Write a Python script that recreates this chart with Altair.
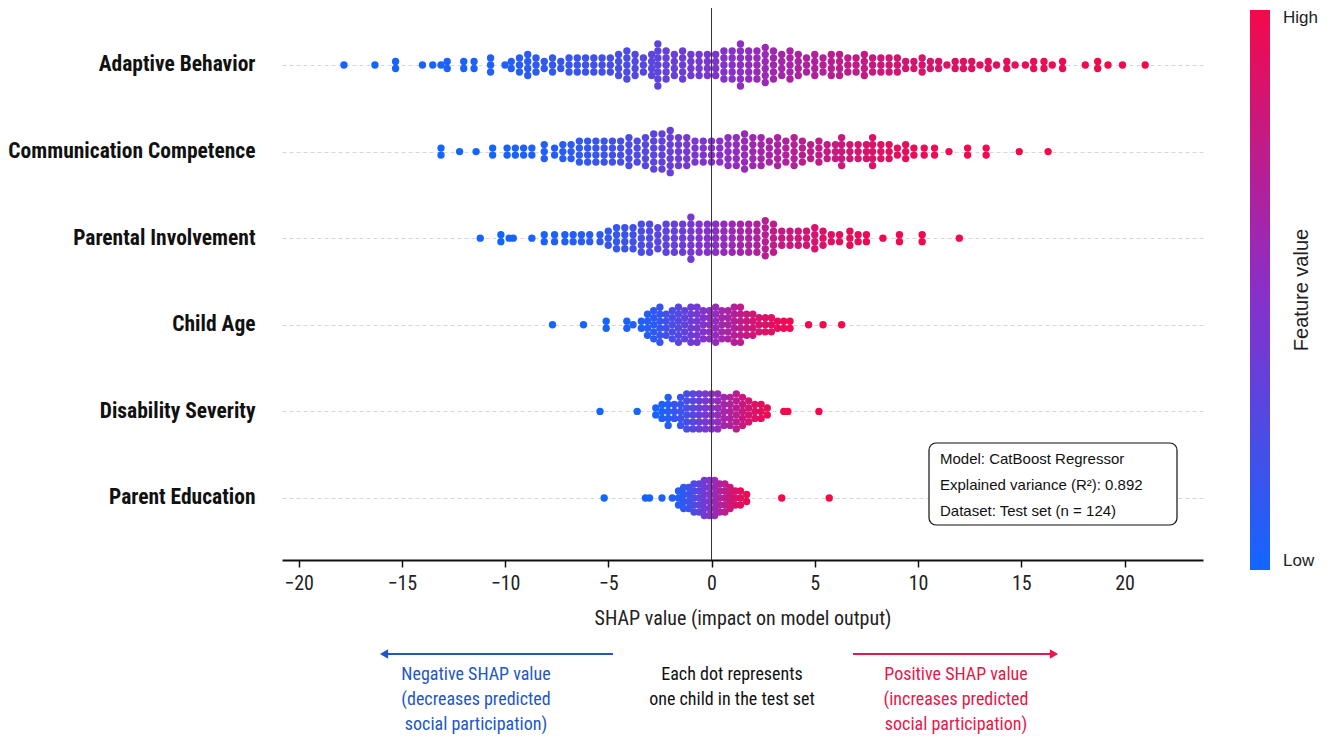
import altair as alt
import pandas as pd

FEATURES = ["Adaptive Behavior", "Communication Competence", "Parental Involvement",
            "Child Age", "Disability Severity", "Parent Education"]

# SHAP value of each dot column and how many dots are stacked in it
ab_x = [-17.8, -16.3, -15.3, -14.0, -13.5, -13.1, -12.8, -12.0, -11.5, -10.7,
        -10.0, -9.7, -9.3, -8.9, -8.5, -8.1, -7.7, -7.3, -6.9, -6.5,
        -6.1, -5.7, -5.3, -4.9, -4.5, -4.1, -3.7, -3.3, -2.9, -2.6,
        -2.2, -1.8, -1.4, -1.0, -0.6, -0.2, 0.2, 0.6, 1.0, 1.4,
        1.8, 2.2, 2.6, 3.0, 3.4, 3.8, 4.2, 4.6, 5.0, 5.4,
        5.8, 6.2, 6.6, 7.0, 7.4, 7.8, 8.2, 8.6, 9.0, 9.4,
        9.8, 10.2, 10.6, 11.0, 11.4, 11.8, 12.2, 12.6, 13.0, 13.4,
        13.8, 14.3, 14.7, 15.2, 15.6, 16.1, 16.5, 17.0, 18.1, 18.7,
        19.2, 19.9, 21.0]
ab_n = [1, 1, 2, 1, 1, 1, 2, 2, 2, 3,
        1, 2, 3, 4, 3, 2, 3, 2, 3, 3,
        3, 3, 3, 3, 4, 5, 4, 3, 4, 7,
        5, 4, 5, 4, 4, 4, 4, 5, 5, 7,
        5, 5, 6, 5, 4, 5, 4, 3, 4, 3,
        4, 4, 3, 3, 4, 3, 3, 3, 3, 2,
        2, 3, 2, 2, 1, 2, 2, 2, 1, 2,
        1, 2, 1, 1, 2, 2, 1, 2, 1, 2,
        1, 1, 1]

cc_x = [-13.1, -12.2, -11.4, -10.6, -9.9, -9.5, -9.1, -8.7, -8.1, -7.6,
        -7.2, -6.8, -6.4, -6.0, -5.6, -5.2, -4.8, -4.4, -4.0, -3.6,
        -3.2, -2.8, -2.4, -2.0, -1.6, -1.2, -0.8, -0.4, 0.0, 0.4,
        0.8, 1.2, 1.6, 2.0, 2.4, 2.8, 3.2, 3.6, 4.0, 4.4,
        4.8, 5.2, 5.6, 6.0, 6.3, 6.7, 7.1, 7.5, 7.8, 8.2,
        8.6, 9.0, 9.4, 9.8, 10.3, 10.8, 11.5, 12.4, 13.3, 14.9,
        16.3]
cc_n = [2, 1, 1, 2, 2, 2, 2, 2, 3, 2,
        3, 3, 4, 4, 4, 4, 4, 4, 5, 4,
        5, 6, 6, 7, 5, 5, 4, 4, 4, 4,
        5, 5, 6, 5, 5, 4, 5, 4, 5, 4,
        3, 4, 3, 3, 5, 3, 3, 3, 5, 3,
        3, 2, 3, 2, 2, 2, 1, 2, 2, 1,
        1]

pi_x = [-11.2, -10.2, -9.8, -9.6, -8.7, -8.1, -7.6, -7.1, -6.7, -6.3,
        -5.9, -5.4, -5.0, -4.6, -4.2, -3.8, -3.4, -3.0, -2.6, -2.2,
        -1.8, -1.4, -1.0, -0.6, -0.2, 0.2, 0.6, 1.0, 1.4, 1.8,
        2.2, 2.6, 3.0, 3.4, 3.8, 4.2, 4.6, 5.0, 5.4, 5.8,
        6.2, 6.7, 7.1, 7.5, 8.3, 9.1, 10.2, 12.0]
pi_n = [1, 2, 1, 1, 1, 2, 2, 2, 2, 2,
        2, 2, 3, 4, 4, 4, 5, 5, 4, 5,
        5, 5, 7, 5, 5, 5, 5, 5, 5, 5,
        5, 6, 5, 3, 3, 3, 3, 4, 3, 2,
        2, 3, 2, 2, 1, 2, 2, 1]

ca_x = [-7.7, -6.2, -5.1, -4.1, -3.8, -3.4, -3.1, -2.8, -2.5, -2.2,
        -1.9, -1.6, -1.3, -1.0, -0.7, -0.4, -0.1, 0.2, 0.5, 0.8,
        1.1, 1.4, 1.7, 2.0, 2.3, 2.6, 2.9, 3.2, 3.5, 3.8,
        4.7, 5.4, 6.3]
ca_n = [1, 1, 2, 2, 1, 2, 4, 5, 6, 4,
        5, 6, 5, 6, 6, 5, 5, 6, 5, 5,
        6, 6, 4, 4, 3, 3, 3, 2, 2, 2,
        1, 1, 1]

ds_x = [-5.4, -3.6, -2.7, -2.4, -2.1, -1.8, -1.5, -1.2, -0.9, -0.6,
        -0.3, 0.0, 0.3, 0.6, 0.9, 1.2, 1.5, 1.8, 2.1, 2.4,
        2.7, 3.5, 3.7, 5.2]
ds_n = [1, 1, 2, 3, 5, 3, 5, 6, 6, 6,
        6, 6, 6, 5, 5, 6, 5, 4, 3, 3,
        2, 1, 1, 1]

pe_x = [-5.2, -3.2, -3.0, -2.4, -1.9, -1.6, -1.35, -1.1, -0.85, -0.6,
        -0.35, -0.1, 0.15, 0.4, 0.65, 0.9, 1.15, 1.4, 1.7, 3.4,
        5.7]
pe_n = [1, 1, 1, 1, 1, 3, 4, 4, 5, 5,
        6, 6, 6, 5, 5, 4, 3, 3, 2, 1,
        1]

X_TICKS = [-20, -15, -10, -5, 0, 5, 10, 15, 20]
INFO_LINES = ["Model: CatBoost Regressor", "Explained variance (R\u00b2): 0.892", "Dataset: Test set (n = 124)"]
NEG_LINES = ["Negative SHAP value", "(decreases predicted", "social participation)"]
MID_LINES = ["Each dot represents", "one child in the test set"]
POS_LINES = ["Positive SHAP value", "(increases predicted", "social participation)"]

columns = [(ab_x, ab_n), (cc_x, cc_n), (pi_x, pi_n), (ca_x, ca_n), (ds_x, ds_n), (pe_x, pe_n)]
recs = []
for i, (xs, ns) in enumerate(columns):
    assert len(xs) == len(ns)
    for x, n in zip(xs, ns):
        for k in range(n):
            recs.append({"feature": FEATURES[i], "row": i, "shap": x, "slot": k - (n - 1) / 2})
df = pd.DataFrame(recs)

NARROW = "'Liberation Sans Narrow', 'Arial Narrow', 'Roboto Condensed', 'Liberation Sans', sans-serif"
SANS = "'Liberation Sans', Arial, sans-serif"
BLUE = "#2256c8"
RED = "#e8164a"

label_expr = "[" + ",".join("'" + f + "'" for f in FEATURES) + "][datum.value]"

points = alt.Chart(df).transform_window(
    window=[{"op": "percent_rank", "as": "fv"}],
    groupby=["feature"],
    sort=[{"field": "shap"}],
).transform_calculate(
    ypos="datum.row + datum.slot * 0.081"
).mark_circle(size=54, opacity=1, strokeWidth=0).encode(
    x=alt.X("shap:Q",
            scale=alt.Scale(domain=[-20.8, 23.8], nice=False, zero=False),
            axis=alt.Axis(values=X_TICKS, title="SHAP value (impact on model output)",
                          grid=False, domainColor="#111", domainWidth=2,
                          tickColor="#111", tickWidth=1.5, tickSize=7,
                          labelFont=NARROW, labelFontSize=20, labelColor="#222",
                          labelPadding=6, titleFont=NARROW, titleFontSize=20,
                          titleFontWeight="normal", titleColor="#222", titlePadding=15)),
    y=alt.Y("ypos:Q",
            scale=alt.Scale(domain=[-0.658, 5.716], reverse=True, nice=False, zero=False),
            axis=alt.Axis(values=[0, 1, 2, 3, 4, 5], labelExpr=label_expr, title=None,
                          domain=False, ticks=False, grid=True, gridDash=[4, 3],
                          gridColor="#d6d6d6", gridWidth=1,
                          labelFont=NARROW, labelFontSize=21.5, labelFontWeight="bold",
                          labelColor="#111", labelPadding=27, labelLimit=400)),
    color=alt.Color("fv:Q",
                    scale=alt.Scale(domain=[0, 1], range=["#1266ff", "#8a2fc8", "#f5084a"],
                                    interpolate="rgb"),
                    legend=alt.Legend(orient="none", legendX=968, legendY=2,
                                      direction="vertical", gradientLength=560,
                                      gradientThickness=20, gradientStrokeWidth=0,
                                      values=[0, 1],
                                      labelExpr="datum.value == 0 ? 'Low' : 'High'",
                                      labelFont=SANS, labelFontSize=17, labelColor="#222",
                                      labelOffset=13, title=None)),
)

zero_rule = alt.Chart(pd.DataFrame({"x": [0]})).mark_rule(color="#333", strokeWidth=1).encode(
    x="x:Q")

one = pd.DataFrame({"k": [0]})


def text(t, x, y, **kw):
    return alt.Chart(one).mark_text(text=t, **kw).encode(x=alt.value(x), y=alt.value(y))


layers = [points, zero_rule]

# info box
layers.append(alt.Chart(one).mark_rect(fill="white", stroke="#111", strokeWidth=1.2,
                                       cornerRadius=7).encode(
    x=alt.value(647), x2=alt.value(895), y=alt.value(435), y2=alt.value(517)))
for j, line in enumerate(INFO_LINES):
    layers.append(text(line, 658, 451 + 26 * j, align="left", baseline="middle",
                       font=SANS, fontSize=15, color="#111"))

# colour bar title
layers.append(text("Feature value", 1020, 282, angle=270, align="center", baseline="middle",
                   font=SANS, fontSize=20, color="#222"))

# arrows
layers.append(alt.Chart(one).mark_rule(color=BLUE, strokeWidth=2).encode(
    x=alt.value(104), x2=alt.value(331), y=alt.value(646)))
layers.append(alt.Chart(one).mark_point(shape="triangle-left", filled=True, color=BLUE,
                                        size=90, opacity=1).encode(
    x=alt.value(102), y=alt.value(646)))
layers.append(alt.Chart(one).mark_rule(color=RED, strokeWidth=2).encode(
    x=alt.value(571), x2=alt.value(770), y=alt.value(646)))
layers.append(alt.Chart(one).mark_point(shape="triangle-right", filled=True, color=RED,
                                        size=90, opacity=1).encode(
    x=alt.value(772), y=alt.value(646)))

for j, line in enumerate(NEG_LINES):
    layers.append(text(line, 194, 667 + 25 * j, align="center", baseline="middle",
                       font=NARROW, fontSize=18, color=BLUE))
for j, line in enumerate(MID_LINES):
    layers.append(text(line, 450, 667 + 25 * j, align="center", baseline="middle",
                       font=NARROW, fontSize=18, color="#111"))
for j, line in enumerate(POS_LINES):
    layers.append(text(line, 674, 667 + 25 * j, align="center", baseline="middle",
                       font=NARROW, fontSize=18, color=RED))

chart = alt.layer(*layers).properties(
    width=921, height=552,
    autosize=alt.AutoSizeParams(type="none"),
    padding={"left": 274, "top": 0, "right": 118, "bottom": 174},
).configure(background="white").configure_view(stroke=None)

chart.save("out.html", embed_options={"renderer": "svg", "actions": False})
